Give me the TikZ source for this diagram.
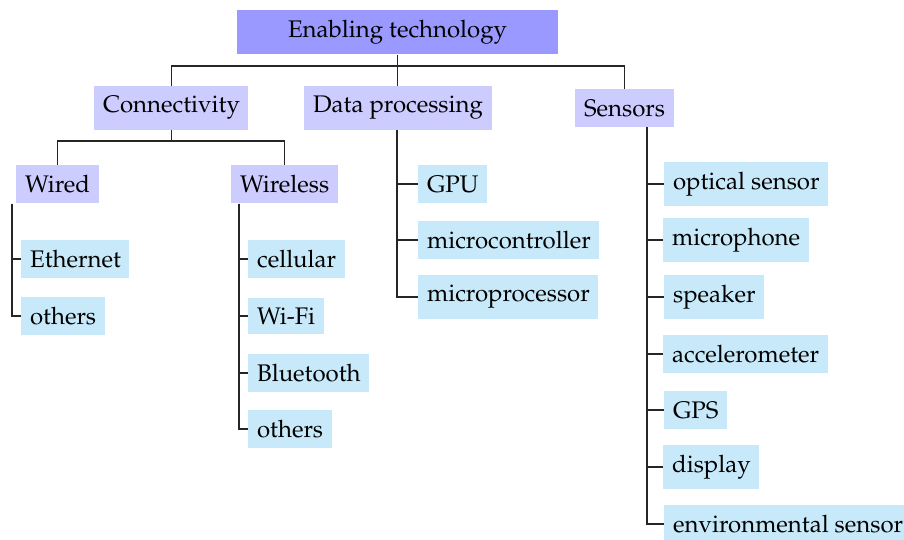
\documentclass[tikz,border=0pt]{standalone}
\usepackage[T1]{fontenc}
\usepackage{mathpazo}
\definecolor{rootblue}{RGB}{153,153,255}
\definecolor{catblue}{RGB}{204,204,255}
\definecolor{leafblue}{RGB}{199,233,249}
\begin{document}
\begin{tikzpicture}[x=0.41667pt,y=-0.41667pt,
  rootbox/.style={fill=rootblue, minimum width=133.75pt, inner xsep=3.6pt, inner ysep=4.2pt},
  catbox/.style={fill=catblue, inner xsep=3.6pt, inner ysep=4.2pt, anchor=west},
  leafbox/.style={fill=leafblue, inner xsep=3.6pt, inner ysep=4.2pt, anchor=west},
  link/.style={draw=black!85, line width=0.45pt}]
\useasboundingbox (0,0) rectangle (904,539);

% tree nodes
\node[rootbox] (root) at (397.5,32) {Enabling technology};
\node[catbox] (conn) at (94,108) {Connectivity};
\node[catbox] (proc) at (304,108) {Data processing};
\node[catbox] (sens) at (575,108) {Sensors};
\node[catbox] (wired) at (16,184) {Wired};
\node[catbox] (wless) at (231,184) {Wireless};

\node[leafbox] (eth) at (21,259) {Ethernet};
\node[leafbox] (wdoth) at (21,316) {others};

\node[leafbox] (cell) at (248,259) {cellular};
\node[leafbox] (wifi) at (248,316) {Wi-Fi};
\node[leafbox] (bt) at (248,373) {Bluetooth};
\node[leafbox] (wloth) at (248,429) {others};

\node[leafbox] (gpu) at (418,184) {GPU};
\node[leafbox] (mcu) at (418,240) {microcontroller};
\node[leafbox] (mpu) at (418,297) {microprocessor};

\node[leafbox] (opt) at (664,184) {optical sensor};
\node[leafbox] (mic) at (663,240) {microphone};
\node[leafbox] (spk) at (664,297) {speaker};
\node[leafbox] (acc) at (663,354) {accelerometer};
\node[leafbox] (gps) at (664,410) {GPS};
\node[leafbox] (disp) at (663,467) {display};
\node[leafbox] (env) at (664,524) {environmental sensor};

% bars and spines of the tree
\coordinate (topbar) at (0,66);
\coordinate (connbar) at (0,141);
\coordinate (wiredspine) at (12,0);
\coordinate (wlessspine) at (239,0);
\coordinate (procspine) at (397,0);
\coordinate (sensspine) at (647,0);

% top level
\draw[link] (root.south) -- (root.south |- proc.north);
\draw[link] (conn.north) |- (sens.north |- topbar) -- (sens.north);

% connectivity split
\draw[link] (conn.south) -- (conn.south |- connbar);
\draw[link] (wired.north) |- (wless.north |- connbar) -- (wless.north);

% folder-style branches
\foreach \c in {eth,wdoth}
  \draw[link] (wired.south -| wiredspine) |- (\c.west);
\foreach \c in {cell,wifi,bt,wloth}
  \draw[link] (wless.south -| wlessspine) |- (\c.west);
\foreach \c in {gpu,mcu,mpu}
  \draw[link] (proc.south -| procspine) |- (\c.west);
\foreach \c in {opt,mic,spk,acc,gps,disp,env}
  \draw[link] (sens.south -| sensspine) |- (\c.west);
\end{tikzpicture}
\end{document}
